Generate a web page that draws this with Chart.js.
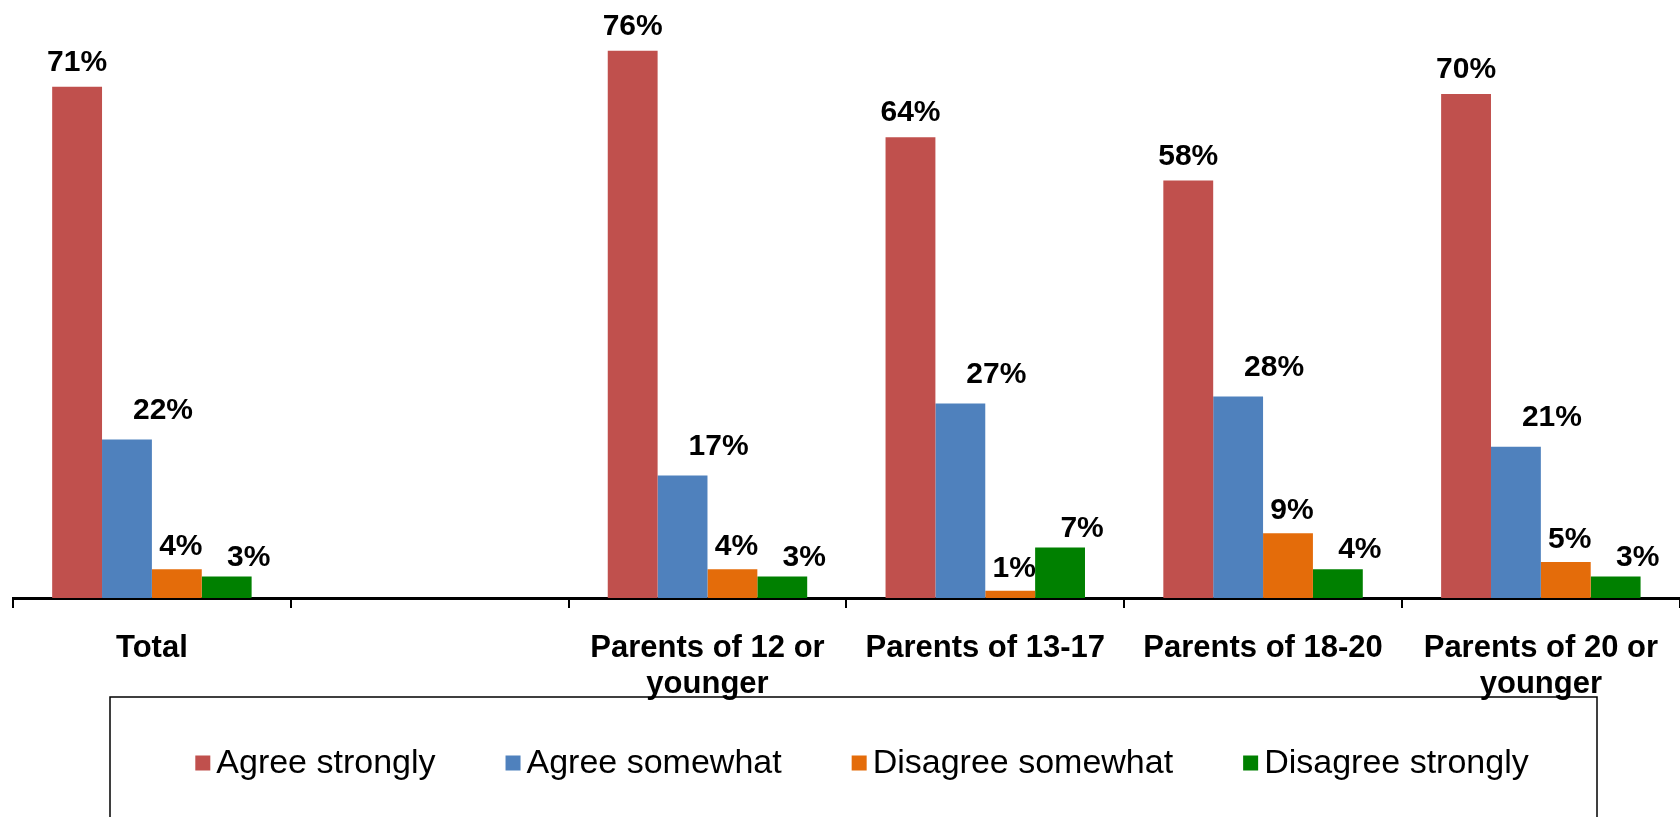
<!DOCTYPE html>
<html>
<head>
<meta charset="utf-8">
<script src="https://cdn.jsdelivr.net/npm/chart.js@4.4.1/dist/chart.umd.min.js"></script>
<style>
  html, body { margin: 0; padding: 0; background: #fff; }
  #wrap { width: 1680px; height: 817px; position: relative; }
</style>
</head>
<body>
<div id="wrap"><canvas id="myChart"></canvas></div>
<script>
var groups = ['Total', '', ['Parents of 12 or', 'younger'], 'Parents of 13-17', 'Parents of 18-20', ['Parents of 20 or', 'younger']];
var seriesNames = ['Agree strongly', 'Agree somewhat', 'Disagree somewhat', 'Disagree strongly'];
var agreeStrongly = [71, null, 76, 64, 58, 70];
var agreeSomewhat = [22, null, 17, 27, 28, 21];
var disagreeSomewhat = [4, null, 4, 1, 9, 5];
var disagreeStrongly = [3, null, 3, 7, 4, 3];
var colors = ['#C0504D', '#4F81BD', '#E46C0A', '#008000'];

var fontFamily = '"Liberation Sans", Arial, sans-serif';
Chart.defaults.font.family = fontFamily;
Chart.defaults.color = '#000';

// percent labels above each bar, nudged per series
var valueLabels = {
  id: 'valueLabels',
  afterDatasetsDraw: function(chart, args, opts) {
    var c = chart.ctx;
    c.save();
    c.font = 'bold 30px ' + fontFamily;
    c.fillStyle = '#000';
    c.textAlign = 'center';
    c.textBaseline = 'middle';
    chart.data.datasets.forEach(function(ds, i) {
      var meta = chart.getDatasetMeta(i);
      var shift = opts.shift[i];
      meta.data.forEach(function(bar, j) {
        if (ds.data[j] === null) return;
        c.fillText(ds.data[j] + '%', bar.x + shift[0], bar.y - shift[1]);
      });
    });
    c.restore();
  }
};

// framed legend under the axis
var boxLegend = {
  id: 'boxLegend',
  afterDraw: function(chart, args, opts) {
    var c = chart.ctx;
    c.save();
    c.strokeStyle = '#000';
    c.lineWidth = 1.5;
    c.strokeRect(opts.left, opts.top, opts.right - opts.left, 200);

    c.font = '34px ' + fontFamily;
    c.textBaseline = 'middle';
    c.textAlign = 'left';
    var widths = chart.data.datasets.map(function(ds) {
      return opts.box + opts.gap + c.measureText(ds.label).width;
    });
    var total = widths.reduce(function(a, b) { return a + b; }, 0) + opts.spacing * (widths.length - 1);
    var x = opts.center - total / 2;
    chart.data.datasets.forEach(function(ds, i) {
      c.fillStyle = ds.backgroundColor;
      c.fillRect(x, opts.y - opts.box / 2, opts.box, opts.box);
      c.fillStyle = '#000';
      c.fillText(ds.label, x + opts.box + opts.gap, opts.y + 1);
      x += widths[i] + opts.spacing;
    });
    c.restore();
  }
};

var series = [agreeStrongly, agreeSomewhat, disagreeSomewhat, disagreeStrongly];

var ctx = document.getElementById('myChart');
var myChart = new Chart(ctx, {
  type: 'bar',
  data: {
    labels: groups,
    datasets: series.map(function(values, i) {
      return {
        label: seriesNames[i],
        data: values,
        backgroundColor: colors[i],
        borderWidth: 0,
        categoryPercentage: 0.718,
        barPercentage: 1
      };
    })
  },
  options: {
    responsive: true,
    maintainAspectRatio: false,
    animation: false,
    layout: {
      padding: { top: 22, left: 13, right: -5, bottom: 0 }
    },
    plugins: {
      legend: { display: false },
      tooltip: { enabled: false },
      valueLabels: {
        shift: [[0, 24], [36, 29], [4, 22], [22, 19]]
      },
      boxLegend: {
        left: 110, top: 697, right: 1597,
        center: 862, y: 763,
        box: 15, gap: 6, spacing: 70
      }
    },
    scales: {
      x: {
        grid: {
          offset: true,
          drawOnChartArea: false,
          drawTicks: true,
          tickLength: 10,
          color: '#000',
          lineWidth: 2
        },
        border: { display: true, color: '#000', width: 3 },
        ticks: {
          color: '#000',
          font: { size: 31, weight: 'bold', lineHeight: 1.17 },
          padding: 22,
          maxRotation: 0,
          autoSkip: false
        },
        afterFit: function(scale) {
          scale.height = 219;
        }
      },
      y: {
        display: false,
        min: 0,
        max: 80
      }
    }
  },
  plugins: [valueLabels, boxLegend]
});
</script>
</body>
</html>
